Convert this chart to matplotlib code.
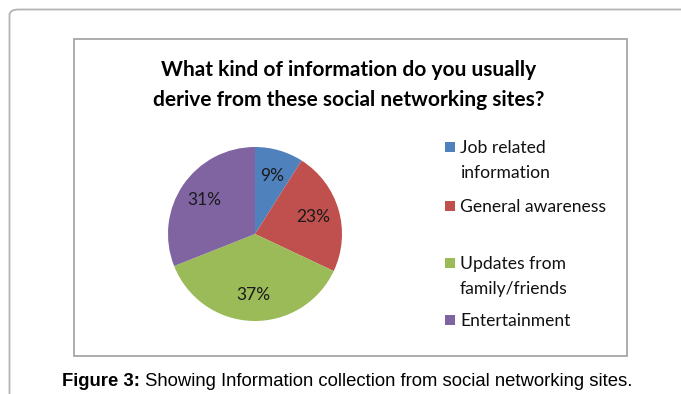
import matplotlib.pyplot as plt
from matplotlib.patches import Rectangle, FancyBboxPatch

# survey answers, shares in percent
categories = ["Job related\ninformation", "General awareness",
              "Updates from\nfamily/friends", "Entertainment"]
shares = [9, 23, 37, 31]
colors = ["#4F81BD", "#C0504D", "#9BBB59", "#8064A2"]

title = "What kind of information do you usually\nderive from these social networking sites?"
caption_bold = "Figure 3:"
caption_rest = " Showing Information collection from social networking sites."

W, H = 681, 394
fig = plt.figure(figsize=(W / 100, H / 100), dpi=100)
fig.patch.set_facecolor("white")


def px(x, y):
    # pixel position (from top-left) -> figure fraction
    return x / W, 1 - y / H


# outer page frame, open to the right and bottom
frame = FancyBboxPatch((9.5 / W, -0.2), 1.2, 1 - 9.5 / H + 0.2,
                       boxstyle="round,pad=0,rounding_size=0.014",
                       transform=fig.transFigure, fill=False,
                       edgecolor="#b4b4b4", linewidth=1.3, clip_on=False)
fig.patches.append(frame)

# chart area border
x0, y0 = px(74, 356)
x1, y1 = px(627, 39)
fig.patches.append(Rectangle((x0, y0), x1 - x0, y1 - y0, transform=fig.transFigure,
                             fill=False, edgecolor="#a6a6a6", linewidth=1.3))

fig.text(*px(349, 85), title, ha="center", va="center", fontsize=15,
         fontweight="bold", family="Lato", linespacing=1.58, color="black")

# pie
cx, cy, r = 255, 234, 87
ax = fig.add_axes([(cx - r) / W, 1 - (cy + r) / H, 2 * r / W, 2 * r / H])
wedges, texts, autotexts = ax.pie(shares, colors=colors, startangle=90, counterclock=False,
                                  autopct="%d%%", pctdistance=0.7, radius=1,
                                  wedgeprops=dict(linewidth=0),
                                  textprops=dict(fontsize=12.5, family="Lato", color="#1a1a1a"))
ax.set_xlim(-1, 1)
ax.set_ylim(-1, 1)
ax.set_aspect("equal")
ax.axis("off")

# legend, squares level with the first line of each label
legend_y = [147, 206, 263, 320]
for lab, col, ly in zip(categories, colors, legend_y):
    sx, sy = px(445, ly + 5)
    fig.patches.append(Rectangle((sx, sy), 10 / W, 10 / H, transform=fig.transFigure,
                                 facecolor=col, edgecolor="none"))
    fig.text(*px(460, ly - 7), lab, ha="left", va="top", fontsize=12.6,
             family="Lato", linespacing=1.7, color="#111111")

# caption: bold lead-in followed by regular text
fig.canvas.draw()
renderer = fig.canvas.get_renderer()
t1 = fig.text(*px(62, 381), caption_bold, ha="left", va="center", fontsize=13.3,
              fontweight="bold", family="Liberation Sans")
bb = t1.get_window_extent(renderer)
fig.text(bb.x1 / W, 1 - 381 / H, caption_rest, ha="left", va="center", fontsize=13.3,
         family="Liberation Sans")

fig.savefig("out.png", dpi=100)
